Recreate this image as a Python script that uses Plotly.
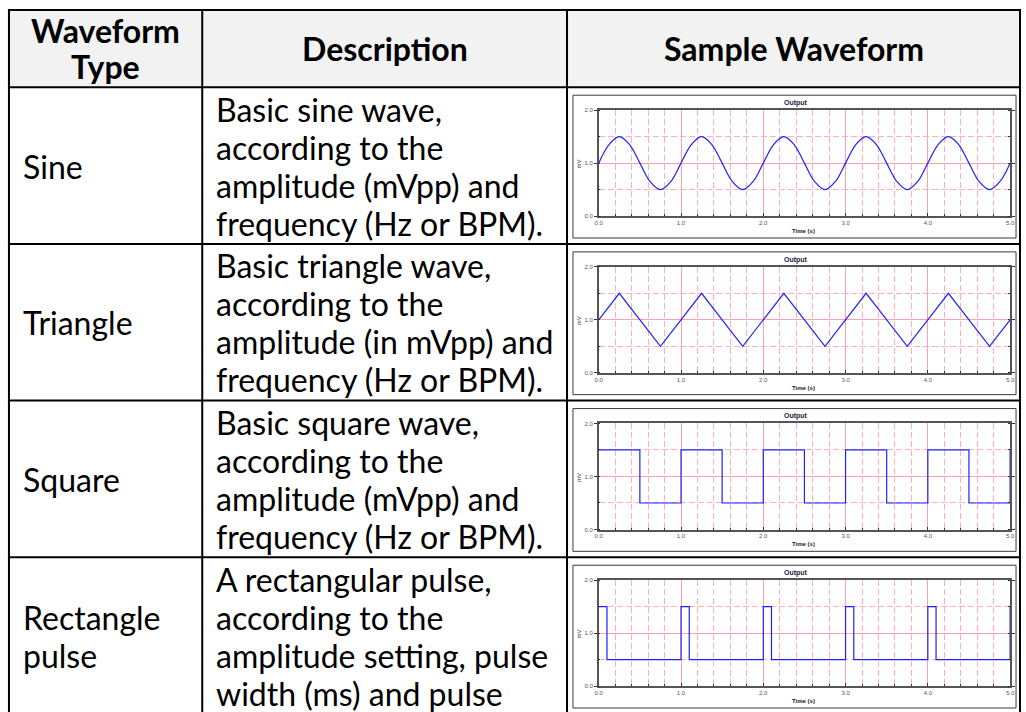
import plotly.graph_objects as go

# ---------------- data ----------------
header_labels = ["Waveform|Type", "Description", "Sample Waveform"]
waveform_types = [["Sine"], ["Triangle"], ["Square"], ["Rectangle", "pulse"]]
descriptions = [
    ["Basic sine wave,", "according to the", "amplitude (mVpp) and", "frequency (Hz or BPM)."],
    ["Basic triangle wave,", "according to the", "amplitude (in mVpp) and", "frequency (Hz or BPM)."],
    ["Basic square wave,", "according to the", "amplitude (mVpp) and", "frequency (Hz or BPM)."],
    ["A rectangular pulse,", "according to the", "amplitude setting, pulse", "width (ms) and pulse"],
]

sine_time = [0.0, 0.125, 0.25, 0.375, 0.5, 0.625, 0.75, 0.875,
             1.0, 1.125, 1.25, 1.375, 1.5, 1.625, 1.75, 1.875,
             2.0, 2.125, 2.25, 2.375, 2.5, 2.625, 2.75, 2.875,
             3.0, 3.125, 3.25, 3.375, 3.5, 3.625, 3.75, 3.875,
             4.0, 4.125, 4.25, 4.375, 4.5, 4.625, 4.75, 4.875, 5.0]
sine_mv = [1.0, 1.35, 1.5, 1.35, 1.0, 0.65, 0.5, 0.65,
           1.0, 1.35, 1.5, 1.35, 1.0, 0.65, 0.5, 0.65,
           1.0, 1.35, 1.5, 1.35, 1.0, 0.65, 0.5, 0.65,
           1.0, 1.35, 1.5, 1.35, 1.0, 0.65, 0.5, 0.65,
           1.0, 1.35, 1.5, 1.35, 1.0, 0.65, 0.5, 0.65, 1.0]

triangle_time = [0.0, 0.25, 0.75, 1.25, 1.75, 2.25, 2.75, 3.25, 3.75, 4.25, 4.75, 5.0]
triangle_mv = [1.0, 1.5, 0.5, 1.5, 0.5, 1.5, 0.5, 1.5, 0.5, 1.5, 0.5, 1.0]

square_time = [0.0, 0.5, 1.0, 1.5, 2.0, 2.5, 3.0, 3.5, 4.0, 4.5, 5.0]
square_mv = [1.5, 0.5, 1.5, 0.5, 1.5, 0.5, 1.5, 0.5, 1.5, 0.5, 1.5]

pulse_time = [0.0, 0.1, 1.0, 1.1, 2.0, 2.1, 3.0, 3.1, 4.0, 4.1, 5.0]
pulse_mv = [1.5, 0.5, 1.5, 0.5, 1.5, 0.5, 1.5, 0.5, 1.5, 0.5, 1.5]

x_tick_vals = [0, 1, 2, 3, 4, 5]
x_tick_text = ["0.0", "1.0", "2.0", "3.0", "4.0", "5.0"]
y_tick_vals = [0, 1, 2]
y_tick_text = ["0.0", "1.0", "2.0"]

series = [
    (sine_time, sine_mv, "spline"),
    (triangle_time, triangle_mv, "linear"),
    (square_time, square_mv, "hv"),
    (pulse_time, pulse_mv, "hv"),
]

# ---------------- geometry ----------------
W, H = 1026, 712
def px(x):
    return x / W
def py(y):
    return 1 - y / H

TABLE_L, COL1, COL2, TABLE_R = 5, 200, 568, 1025
TABLE_T, HEAD_B = 7, 85
ROW_H = 158
row_tops = [HEAD_B + ROW_H * i for i in range(4)]
LINE_GAP = 38.3
FIRST_OFF = 22

TEXT_FONT = "Lato"
TEXT_SIZE = 32
CHART_FONT = "Liberation Sans"

fig = go.Figure()
shapes = []
annotations = []

# header background
shapes.append(dict(type="rect", xref="paper", yref="paper",
                   x0=px(TABLE_L), x1=px(TABLE_R), y0=py(HEAD_B), y1=py(TABLE_T),
                   fillcolor="#f2f2f2", line=dict(width=0), layer="below"))

# table grid lines
for yy in [TABLE_T, HEAD_B] + row_tops[1:]:
    shapes.append(dict(type="line", xref="paper", yref="paper",
                       x0=px(TABLE_L - 1), x1=px(TABLE_R + 1), y0=py(yy), y1=py(yy),
                       line=dict(color="black", width=2), layer="above"))
for xx in [TABLE_L, COL1, COL2, TABLE_R]:
    shapes.append(dict(type="line", xref="paper", yref="paper",
                       x0=px(xx), x1=px(xx), y0=py(TABLE_T), y1=py(H + 5),
                       line=dict(color="black", width=2), layer="above"))

# header text
head_mid = (TABLE_T + HEAD_B) / 2
hfont = dict(family=TEXT_FONT, size=TEXT_SIZE, color="black", weight="bold")
col_centers = [(TABLE_L + COL1) / 2, (COL1 + COL2) / 2, (COL2 + TABLE_R) / 2]
for label, cx in zip(header_labels, col_centers):
    parts = label.split("|")
    n = len(parts)
    for j, part in enumerate(parts):
        yy = head_mid + (j - (n - 1) / 2) * 37
        annotations.append(dict(text=part, x=px(cx), y=py(yy), xref="paper", yref="paper",
                                xanchor="center", yanchor="middle", showarrow=False,
                                font=hfont))

tfont = dict(family=TEXT_FONT, size=TEXT_SIZE, color="black")
for r, top in enumerate(row_tops):
    first = top + FIRST_OFF
    # description lines
    for j, line in enumerate(descriptions[r]):
        annotations.append(dict(text=line, x=px(COL1 + 12), y=py(first + j * LINE_GAP),
                                xref="paper", yref="paper", xanchor="left", yanchor="middle",
                                showarrow=False, font=tfont))
    # type label (vertically centred on the description block)
    parts = waveform_types[r]
    n = len(parts)
    mid = first + 1.5 * LINE_GAP
    for j, part in enumerate(parts):
        yy = mid + (j - (n - 1) / 2) * LINE_GAP
        annotations.append(dict(text=part, x=px(TABLE_L + 12), y=py(yy),
                                xref="paper", yref="paper", xanchor="left", yanchor="middle",
                                showarrow=False, font=tfont))

    # mini chart frame
    shapes.append(dict(type="rect", xref="paper", yref="paper",
                       x0=px(574), x1=px(1021), y0=py(top + 152), y1=py(top + 8),
                       line=dict(color="#3a3a3a", width=1), fillcolor="rgba(0,0,0,0)",
                       layer="below"))
    annotations.append(dict(text="<b>Output</b>", x=px(799), y=py(top + 16),
                            xref="paper", yref="paper", xanchor="center", yanchor="middle",
                            showarrow=False, font=dict(family=CHART_FONT, size=7, color="#1c1c3c")))
    annotations.append(dict(text="<b>Time (s)</b>", x=px(807), y=py(top + 145),
                            xref="paper", yref="paper", xanchor="center", yanchor="middle",
                            showarrow=False, font=dict(family=CHART_FONT, size=6, color="#222")))
    annotations.append(dict(text="mV", x=px(580), y=py(top + 77), textangle=-90,
                            xref="paper", yref="paper", xanchor="center", yanchor="middle",
                            showarrow=False, font=dict(family=CHART_FONT, size=6, color="#333")))

    t, v, shape = series[r]
    ax = "" if r == 0 else str(r + 1)
    fig.add_trace(go.Scatter(x=t, y=v, mode="lines", xaxis="x" + ax, yaxis="y" + ax,
                             line=dict(color="#2020ff", width=1.2, shape=shape),
                             showlegend=False, hoverinfo="skip"))

    common = dict(showline=True, linecolor="#555", linewidth=1.5,
                  showgrid=True, gridcolor="#ff9fb4", gridwidth=1, zeroline=False,
                  ticklen=3, tickcolor="#333", tickwidth=1,
                  tickfont=dict(family=CHART_FONT, size=6, color="#555"), fixedrange=True)
    fig.layout["xaxis" + ax] = dict(
        domain=[px(600), px(1015)], anchor="y" + ax, range=[0, 5],
        tickvals=x_tick_vals, ticktext=x_tick_text, mirror=True, ticks="inside",
        minor=dict(dtick=0.2, showgrid=True, gridcolor="#ffadc0", griddash="6px,3px",
                   ticks="inside", ticklen=2, tickcolor="#333"),
        **common)
    fig.layout["yaxis" + ax] = dict(
        domain=[py(top + 130), py(top + 23)], anchor="x" + ax, range=[0, 2],
        tickvals=y_tick_vals, ticktext=y_tick_text, mirror="allticks", ticks="outside",
        minor=dict(dtick=0.5, showgrid=True, gridcolor="#ffadc0", griddash="6px,3px",
                   ticks="inside", ticklen=2, tickcolor="#333"),
        **common)

fig.update_layout(width=W, height=H, margin=dict(l=0, r=0, t=0, b=0),
                  paper_bgcolor="white", plot_bgcolor="white",
                  shapes=shapes, annotations=annotations, hovermode=False)

fig.write_html("out.html", config={"displayModeBar": False},
               post_script="document.body.style.margin='0';document.body.style.overflow='hidden';")
